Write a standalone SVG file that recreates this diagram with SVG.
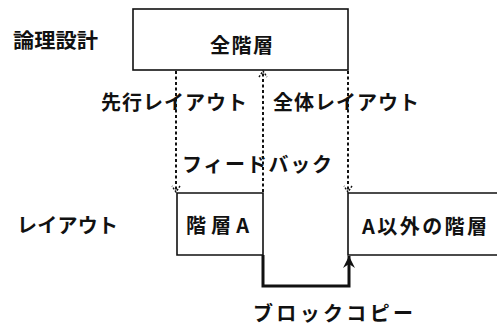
<svg xmlns="http://www.w3.org/2000/svg" width="497" height="327" viewBox="0 0 497 327">
<style>
text{font-family:"Noto Sans CJK JP","Noto Sans",sans-serif;font-weight:700;font-size:20px;fill:#111}
.box{fill:none;stroke:#111;stroke-width:1.6}
.dash{fill:none;stroke:#111;stroke-width:2;stroke-dasharray:3 2.5}
.thick{fill:none;stroke:#111;stroke-width:3}
</style>
<defs>
<marker id="vhead" markerWidth="10" markerHeight="10" refX="9" refY="5" orient="auto" markerUnits="userSpaceOnUse" viewBox="0 0 10 10">
<path d="M3,1 L9,5 L3,9" fill="none" stroke="#111" stroke-width="1.4" stroke-dasharray="2 1.5"/>
</marker>
<marker id="solidhead" markerWidth="14" markerHeight="14" refX="13" refY="7" orient="auto" markerUnits="userSpaceOnUse" viewBox="0 0 14 14">
<path d="M1,1 L13,7 L1,13 L5,7 Z" fill="#111"/>
</marker>
</defs>
<g id="label-logic"><text x="13" y="48" textLength="85" lengthAdjust="spacingAndGlyphs">論理設計</text></g>
<g id="label-layout"><text x="17" y="233" textLength="101" lengthAdjust="spacing">レイアウト</text></g>
<g id="node-all">
<rect class="box" x="133" y="9" width="215" height="61"/>
<text x="210" y="53" textLength="63" lengthAdjust="spacing">全階層</text>
</g>
<g id="node-A">
<path class="box" d="M177,193 L263,193 L263,255 L177,255 Z"/>
<text x="186" y="233" textLength="63" lengthAdjust="spacing">階層A</text>
</g>
<g id="node-others">
<path class="box" d="M497,193 L348,193 L348,255 L497,255"/>
<text x="362" y="234" textLength="125" lengthAdjust="spacing">A以外の階層</text>
</g>
<g id="connectors">
<line class="dash" x1="176" y1="71" x2="176" y2="192" marker-end="url(#vhead)"/>
<line class="dash" x1="263" y1="192" x2="263" y2="71" marker-end="url(#vhead)"/>
<line class="dash" x1="348" y1="71" x2="348" y2="192" marker-end="url(#vhead)"/>
<path class="thick" d="M263,255 L263,286 L349,286 L349,256" marker-end="url(#solidhead)"/>
</g>
<g id="connector-labels">
<text x="101" y="110" textLength="146" lengthAdjust="spacing">先行レイアウト</text>
<text x="273" y="110" textLength="146" lengthAdjust="spacing">全体レイアウト</text>
<text x="182" y="172" textLength="150" lengthAdjust="spacing">フィードバック</text>
<text x="253" y="321" textLength="160" lengthAdjust="spacing">ブロックコピー</text>
</g>
</svg>
